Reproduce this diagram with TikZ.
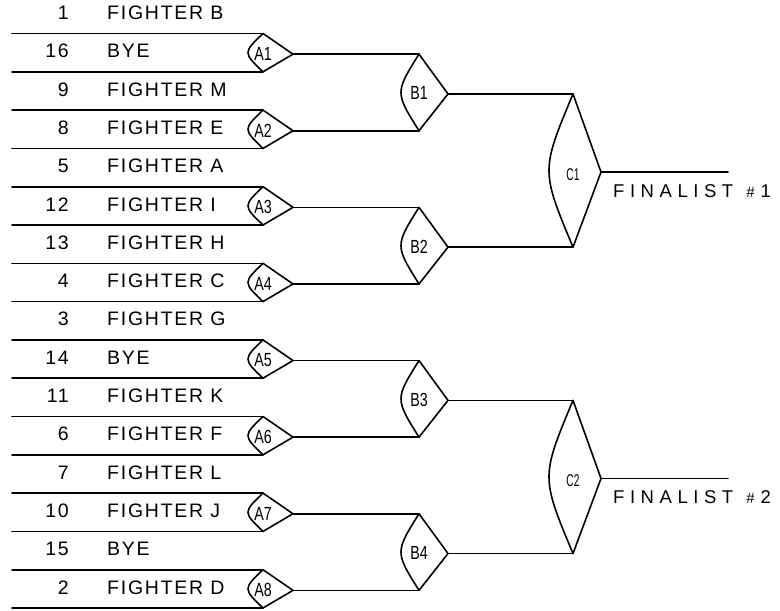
\documentclass[tikz,border=0pt]{standalone}
\usepackage{fontspec}
\usepackage{graphicx}
\usetikzlibrary{calc}
\setmainfont{Liberation Sans}
\newfontfamily\namefont[LetterSpace=9]{Liberation Sans}
\newfontfamily\finfont[LetterSpace=30]{Liberation Sans}
\tikzset{
  wire/.style={line width=1.6pt, line cap=round, line join=round},
  nametext/.style={inner sep=0pt, font=\namefont\fontsize{19.5}{20}\selectfont},
  numtext/.style={inner sep=0pt, font=\namefont\fontsize{19.5}{20}\selectfont},
  glab/.style={inner sep=0pt, font=\fontsize{19}{20}\selectfont},
  clab/.style={inner sep=0pt, font=\fontsize{17}{18}\selectfont},
  fintext/.style={inner sep=0pt, font=\finfont\fontsize{18.5}{19}\selectfont}
}
\newcommand\drawgate[5]{% #1 name, #2 top, #3 bottom, #4 tip dx, #5 bulge
  \coordinate (#1o) at ($(#2)!0.5!(#3)+(#4,1.5)$);
  \coordinate (#1c) at ($(#2)!0.5!(#3)+(-2*#5,0)$);
  \draw[wire] (#2) -- (#1o) -- (#3) .. controls (#1c) .. (#2);
}
\begin{document}
\begin{tikzpicture}[x=1pt,y=-1pt]
\useasboundingbox (0,0) rectangle (780,611);
\coordinate (xB) at (419,0);
\coordinate (xC) at (573,0);
\coordinate (xF) at (728,0);
% fighter lines
\foreach \i/\n/\name in {1/1/FIGHTER B, 2/16/BYE, 3/9/FIGHTER M, 4/8/FIGHTER E,
  5/5/FIGHTER A, 6/12/FIGHTER I, 7/13/FIGHTER H, 8/4/FIGHTER C,
  9/3/FIGHTER G, 10/14/BYE, 11/11/FIGHTER K, 12/6/FIGHTER F,
  13/7/FIGHTER L, 14/10/FIGHTER J, 15/15/BYE, 16/2/FIGHTER D} {
  \pgfmathsetmacro\yy{33.5+38.3*(\i-1)}
  \coordinate (s\i) at (12,\yy);
  \coordinate (e\i) at (263,\yy);
  \draw[wire] (s\i) -- (e\i);
  \node[numtext, anchor=base east] (n\i) at (69,\yy-14) {\n};
  \node[nametext, anchor=base west] (f\i) at (107,\yy-14) {\name};
}
% A gates
\foreach \k in {1,...,8} {
  \pgfmathtruncatemacro\ta{2*\k-1}
  \pgfmathtruncatemacro\tb{2*\k}
  \drawgate{A\k}{e\ta}{e\tb}{30}{10}
  \node[glab] (A\k) at ($(e\ta)!0.5!(e\tb)+(0,1.5)$) {\scalebox{0.75}[1]{A\k}};
}
% B gates
\foreach \j in {1,...,4} {
  \pgfmathtruncatemacro\ta{2*\j-1}
  \pgfmathtruncatemacro\tb{2*\j}
  \coordinate (Bt\j) at (A\ta o -| xB);
  \coordinate (Bb\j) at (A\tb o -| xB);
  \draw[wire] (A\ta o) -- (Bt\j);
  \draw[wire] (A\tb o) -- (Bb\j);
  \drawgate{B\j}{Bt\j}{Bb\j}{29}{12}
  \node[glab] (B\j) at ($(Bt\j)!0.5!(Bb\j)+(0,1)$) {\scalebox{0.75}[1]{B\j}};
}
% C gates
\foreach \m in {1,2} {
  \pgfmathtruncatemacro\ta{2*\m-1}
  \pgfmathtruncatemacro\tb{2*\m}
  \coordinate (Ct\m) at (B\ta o -| xC);
  \coordinate (Cb\m) at (B\tb o -| xC);
  \draw[wire] (B\ta o) -- (Ct\m);
  \draw[wire] (B\tb o) -- (Cb\m);
  \drawgate{C\m}{Ct\m}{Cb\m}{28}{16}
  \node[clab] (C\m) at ($(Ct\m)!0.5!(Cb\m)+(0,4)$) {\scalebox{0.6}[1]{C\m}};
  \coordinate (F\m) at (C\m o -| xF);
  \draw[wire] (C\m o) -- (F\m);
  \node[fintext, anchor=base west] (fin\m) at ($(C\m o)+(12,25)$) {FINALIST\hspace{13pt}{\fontsize{15}{15}\selectfont\#}\hspace{6pt}\m};
}
\end{tikzpicture}
\end{document}
